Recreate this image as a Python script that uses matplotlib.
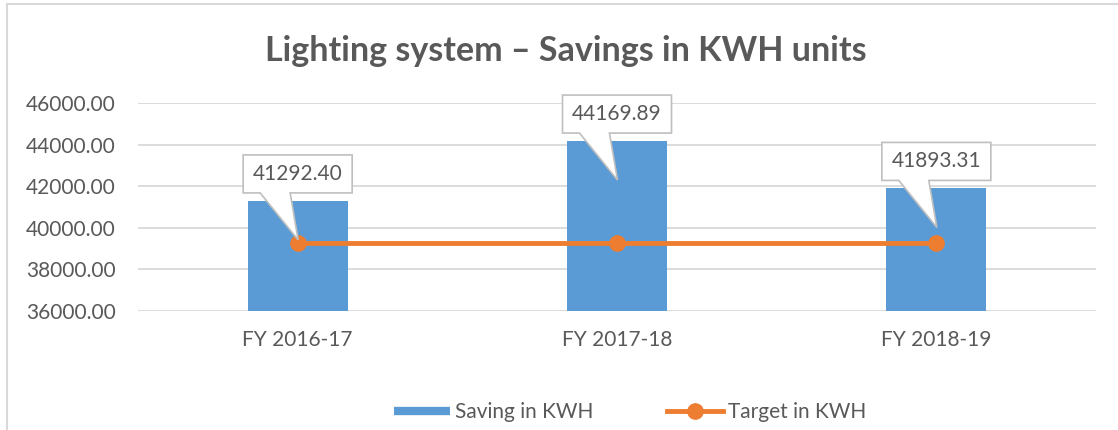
import matplotlib
matplotlib.use("Agg")
import matplotlib.pyplot as plt
import matplotlib.transforms as mtransforms
from matplotlib.path import Path
from matplotlib.patches import PathPatch, Rectangle
from matplotlib.lines import Line2D

categories = ["FY 2016-17", "FY 2017-18", "FY 2018-19"]
saving = [41292.40, 44169.89, 41893.31]
target = [39250, 39250, 39250]
yticks = [36000, 38000, 40000, 42000, 44000, 46000]
title = "Lighting system \u2013 Savings in KWH units"
series_names = ["Saving in KWH", "Target in KWH"]

BLUE = "#5B9BD5"
ORANGE = "#ED7D31"
TXT = "#595959"
GRID = "#D9D9D9"

plt.rcParams['font.family'] = ['Lato', 'DejaVu Sans']

fig = plt.figure(figsize=(11.18, 4.30), dpi=100)
W, H = 1118, 430
ax = fig.add_axes([138 / W, 1 - 311 / H, (1096 - 138) / W, (311 - 103) / H])

x = list(range(len(categories)))
ax.bar(x, [v - yticks[0] for v in saving], bottom=yticks[0], width=0.313,
       color=BLUE, zorder=2)
ax.plot(x, target, color=ORANGE, lw=3.5, marker='o', markersize=11, zorder=3)

ax.set_xlim(-0.5, len(categories) - 0.5)
ax.set_ylim(yticks[0], yticks[-1])
ax.set_yticks(yticks)
ax.set_yticklabels([f"{v:.2f}" for v in yticks])
ax.set_xticks(x)
ax.set_xticklabels(categories)
ax.tick_params(axis='both', length=0, labelsize=15, labelcolor=TXT)
ax.tick_params(axis='y', pad=16)
ax.tick_params(axis='x', pad=14)
for s in ax.spines.values():
    s.set_visible(False)
ax.grid(axis='y', color=GRID, lw=1.3, zorder=0)
ax.set_axisbelow(True)

# callout data labels
for i, v in enumerate(saving):
    trans = mtransforms.Affine2D() + mtransforms.ScaledTranslation(i, v, ax.transData)
    verts = [(-54.5, 8), (-37.5, 8), (0.5, -39), (-7.5, 8), (54.5, 8),
             (54.5, 46), (-54.5, 46), (-54.5, 8)]
    codes = [Path.MOVETO] + [Path.LINETO] * 6 + [Path.CLOSEPOLY]
    patch = PathPatch(Path(verts, codes), transform=trans, facecolor='white',
                      edgecolor='#BFBFBF', lw=1.2, zorder=5, clip_on=False)
    ax.add_patch(patch)
    ax.annotate(f"{v:.2f}", xy=(i, v), xytext=(0, 27), textcoords='offset pixels',
                ha='center', va='center', fontsize=15, color=TXT, zorder=6)

fig.text(566 / W, 1 - 51 / H, title, ha='center', va='center', fontsize=24.5,
         fontweight='bold', color=TXT)

handles = [Line2D([0], [0], color=BLUE, lw=6, solid_capstyle='butt'),
           Line2D([0], [0], color=ORANGE, lw=3.5, marker='o', markersize=11)]
fig.legend(handles, series_names, loc='center', bbox_to_anchor=(630 / W, 1 - 412 / H),
           ncol=2, frameon=False, fontsize=15, handlelength=2.7, handletextpad=0.25,
           columnspacing=3.5, labelcolor=TXT)

# chart border
fig.patches.append(Rectangle((7 / W, -0.1), 1.2, (430 - 4) / H + 0.1,
                             transform=fig.transFigure, fill=False,
                             edgecolor=GRID, lw=1.5))

fig.savefig("out.png", dpi=100)
